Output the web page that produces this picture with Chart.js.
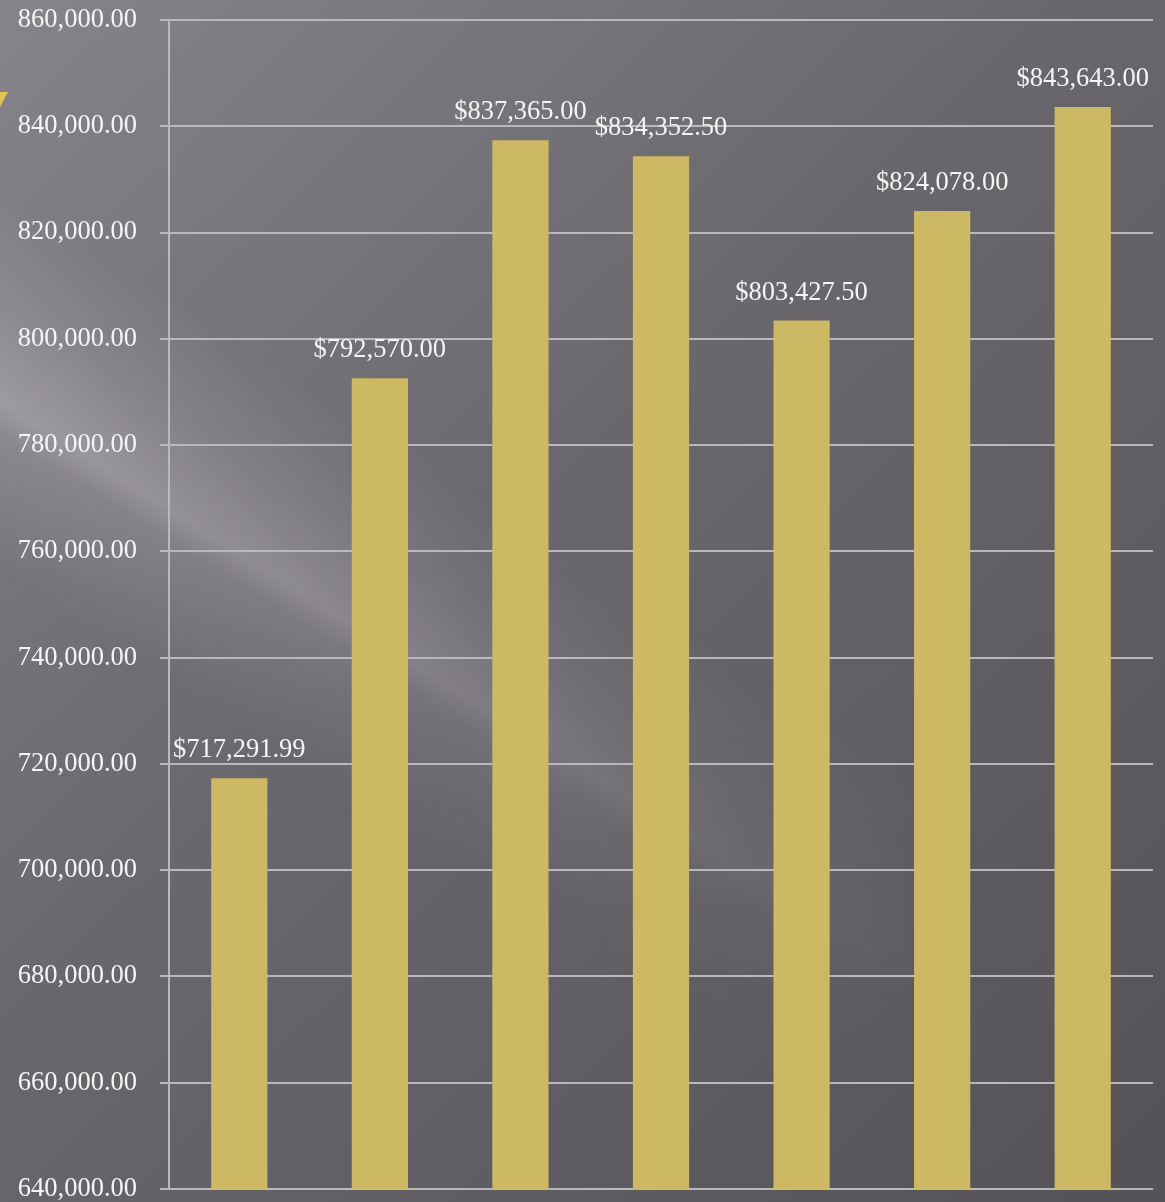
<!DOCTYPE html>
<html>
<head>
<meta charset="utf-8">
<script src="https://cdn.jsdelivr.net/npm/chart.js@4.4.1/dist/chart.umd.min.js"></script>
<style>
  html, body { margin: 0; padding: 0; background: #68656b; }
  #wrap { width: 1165px; height: 1202px; position: relative; }
  canvas { display: block; }
</style>
</head>
<body>
<div id="wrap"><canvas id="c" width="1165" height="1202"></canvas></div>
<script>
// ---- data ----
const categories = ['1', '2', '3', '4', '5', '6', '7'];
const values = [717291.99, 792570.00, 837365.00, 834352.50, 803427.50, 824078.00, 843643.00];
const dataLabels = ['$717,291.99', '$792,570.00', '$837,365.00', '$834,352.50', '$803,427.50', '$824,078.00', '$843,643.00'];
const yMin = 640000;
const yMax = 860000;
const yStep = 20000;

const FONT = '"Liberation Serif", "DejaVu Serif", serif';

const backgroundPlugin = {
  id: 'bg',
  beforeDraw(chart) {
    const ctx = chart.ctx;
    const W = chart.width, H = chart.height;
    ctx.save();
    const g = ctx.createLinearGradient(0, 0, W, H);
    g.addColorStop(0, '#86838a');
    g.addColorStop(0.45, '#69666c');
    g.addColorStop(1, '#545157');
    ctx.fillStyle = g;
    ctx.fillRect(0, 0, W, H);

    // diagonal light streak
    const off = document.createElement('canvas');
    off.width = W; off.height = H;
    const o = off.getContext('2d');
    const ang = Math.atan2(0.63, 1);
    o.translate(-20, 400);
    o.rotate(ang);
    const pg = o.createLinearGradient(0, -190, 0, 140);
    pg.addColorStop(0, 'rgba(255,250,255,0)');
    pg.addColorStop(0.3, 'rgba(255,250,255,0.12)');
    pg.addColorStop(0.55, 'rgba(255,250,255,0.27)');
    pg.addColorStop(0.63, 'rgba(255,250,255,0.14)');
    pg.addColorStop(1, 'rgba(255,250,255,0)');
    o.fillStyle = pg;
    o.fillRect(-400, -190, 1800, 330);
    o.globalCompositeOperation = 'destination-in';
    const lg = o.createLinearGradient(0, 0, 1150, 0);
    lg.addColorStop(0, 'rgba(0,0,0,1)');
    lg.addColorStop(0.35, 'rgba(0,0,0,0.8)');
    lg.addColorStop(1, 'rgba(0,0,0,0)');
    o.fillStyle = lg;
    o.fillRect(-400, -190, 1800, 330);
    ctx.drawImage(off, 0, 0);

    // small yellow decoration at the left edge
    ctx.fillStyle = '#e2c255';
    ctx.beginPath();
    ctx.moveTo(0, 92);
    ctx.lineTo(8, 92);
    ctx.lineTo(0, 107);
    ctx.closePath();
    ctx.fill();
    ctx.restore();
  }
};

const labelPlugin = {
  id: 'barLabels',
  afterDatasetsDraw(chart) {
    const ctx = chart.ctx;
    const meta = chart.getDatasetMeta(0);
    ctx.save();
    ctx.font = '26.5px ' + FONT;
    ctx.fillStyle = '#f5f5f5';
    ctx.textAlign = 'center';
    ctx.textBaseline = 'middle';
    meta.data.forEach((bar, i) => {
      ctx.fillText(dataLabels[i], bar.x, bar.y - 28);
    });
    ctx.restore();
  }
};

new Chart(document.getElementById('c'), {
  type: 'bar',
  data: {
    labels: categories,
    datasets: [{
      data: values,
      backgroundColor: '#cdb863',
      borderWidth: 0,
      barPercentage: 0.4,
      categoryPercentage: 1.0
    }]
  },
  options: {
    responsive: false,
    animation: false,
    events: [],
    layout: { padding: { left: 0, right: 12, top: 20, bottom: 13 } },
    plugins: { legend: { display: false }, tooltip: { enabled: false } },
    scales: {
      x: { display: false },
      y: {
        min: yMin,
        max: yMax,
        afterFit(scale) { scale.width = 169; scale.paddingTop = 0; scale.paddingBottom = 0; },
        ticks: {
          stepSize: yStep,
          padding: 23,
          color: '#f5f5f5',
          font: { family: FONT, size: 26.5, lineHeight: 0.9 },
          callback: v => Number(v).toLocaleString('en-US', { minimumFractionDigits: 2, maximumFractionDigits: 2 })
        },
        grid: { color: '#b9b8bb', lineWidth: 2, tickLength: 9, drawTicks: true },
        border: { display: true, color: '#b9b8bb', width: 2 }
      }
    }
  },
  plugins: [backgroundPlugin, labelPlugin]
});
</script>
</body>
</html>
